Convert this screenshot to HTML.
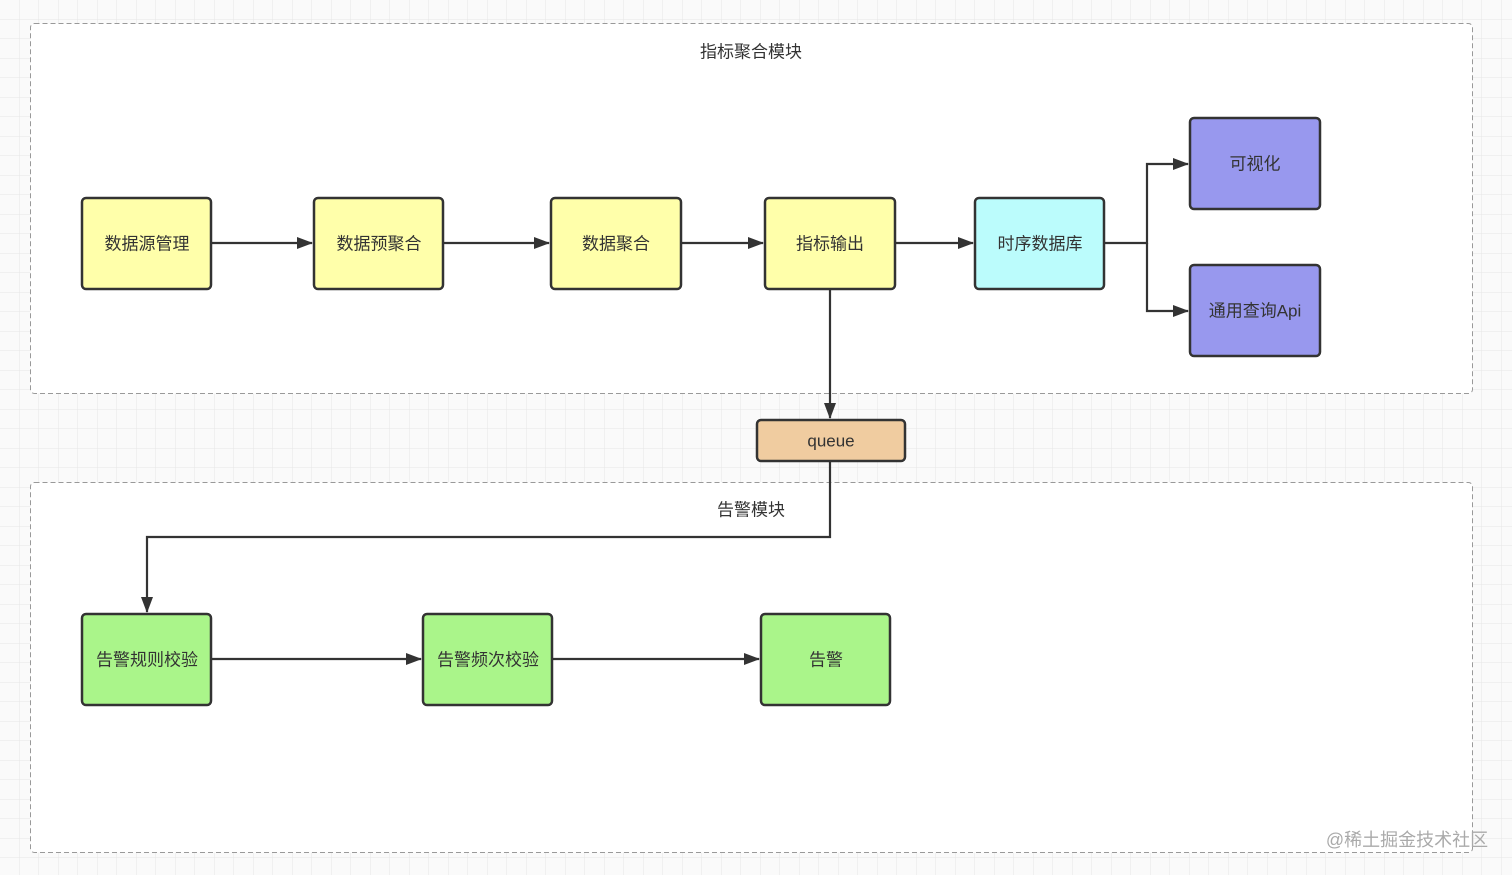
<!DOCTYPE html>
<html><head><meta charset="utf-8"><style>
html,body{margin:0;padding:0;width:1512px;height:875px;overflow:hidden;background:#fff}
svg{display:block}
text{font-family:"Liberation Sans","Noto Sans CJK SC",sans-serif;font-size:17px;fill:#333;dominant-baseline:central;text-anchor:middle}
</style></head><body>
<svg width="1512" height="875" xmlns="http://www.w3.org/2000/svg">
<defs>
<pattern id="g" width="19.5" height="19.5" patternUnits="userSpaceOnUse">
<path d="M19.5 0V19.5M0 19.5H19.5" stroke="#e6e6e6" stroke-width="1" fill="none"/>
</pattern>
<marker id="a" markerWidth="16" markerHeight="14" refX="15" refY="7" orient="auto" markerUnits="userSpaceOnUse">
<path d="M0,1 L16,7 L0,13 Z" fill="#333"/>
</marker>
</defs>
<rect width="1512" height="875" fill="#fafafa"/>
<rect width="1512" height="875" fill="url(#g)"/>
<rect x="30.5" y="23.5" width="1442" height="370" rx="4" fill="#fff" stroke="#999" stroke-dasharray="5,3"/>
<rect x="30.5" y="482.5" width="1442" height="370" rx="4" fill="#fff" stroke="#999" stroke-dasharray="5,3"/>
<text x="751" y="52">指标聚合模块</text>
<text x="751" y="510">告警模块</text>
<g stroke="#333" stroke-width="2.2" fill="none">
<path d="M211 243H312" marker-end="url(#a)"/>
<path d="M443 243H549" marker-end="url(#a)"/>
<path d="M681 243H763" marker-end="url(#a)"/>
<path d="M895 243H973" marker-end="url(#a)"/>
<path d="M1104 243H1147V164H1188" marker-end="url(#a)"/>
<path d="M1147 243V311H1188" marker-end="url(#a)"/>
<path d="M830 289V418" marker-end="url(#a)"/>
<path d="M830 461V537H147V612" marker-end="url(#a)"/>
<path d="M211 659H421" marker-end="url(#a)"/>
<path d="M552 659H759" marker-end="url(#a)"/>
</g>
<g stroke="#333" stroke-width="2.5">
<rect x="82" y="198" width="129" height="91" rx="4" fill="#ffffaa"/>
<rect x="314" y="198" width="129" height="91" rx="4" fill="#ffffaa"/>
<rect x="551" y="198" width="130" height="91" rx="4" fill="#ffffaa"/>
<rect x="765" y="198" width="130" height="91" rx="4" fill="#ffffaa"/>
<rect x="975" y="198" width="129" height="91" rx="4" fill="#bbfcfc"/>
<rect x="1190" y="118" width="130" height="91" rx="4" fill="#9898ee"/>
<rect x="1190" y="265" width="130" height="91" rx="4" fill="#9898ee"/>
<rect x="757" y="420" width="148" height="41" rx="4" fill="#f0cca0"/>
<rect x="82" y="614" width="129" height="91" rx="4" fill="#aaf58a"/>
<rect x="423" y="614" width="129" height="91" rx="4" fill="#aaf58a"/>
<rect x="761" y="614" width="129" height="91" rx="4" fill="#aaf58a"/>
</g>
<text x="147" y="244">数据源管理</text>
<text x="379" y="244">数据预聚合</text>
<text x="616" y="244">数据聚合</text>
<text x="830" y="244">指标输出</text>
<text x="1040" y="244">时序数据库</text>
<text x="1255" y="164">可视化</text>
<text x="1255" y="311">通用查询Api</text>
<text x="831" y="441">queue</text>
<text x="147" y="660">告警规则校验</text>
<text x="488" y="660">告警频次校验</text>
<text x="826" y="660">告警</text>
<text x="1407" y="840" style="font-size:18px;fill:#aaa">@稀土掘金技术社区</text>
</svg>
</body></html>
